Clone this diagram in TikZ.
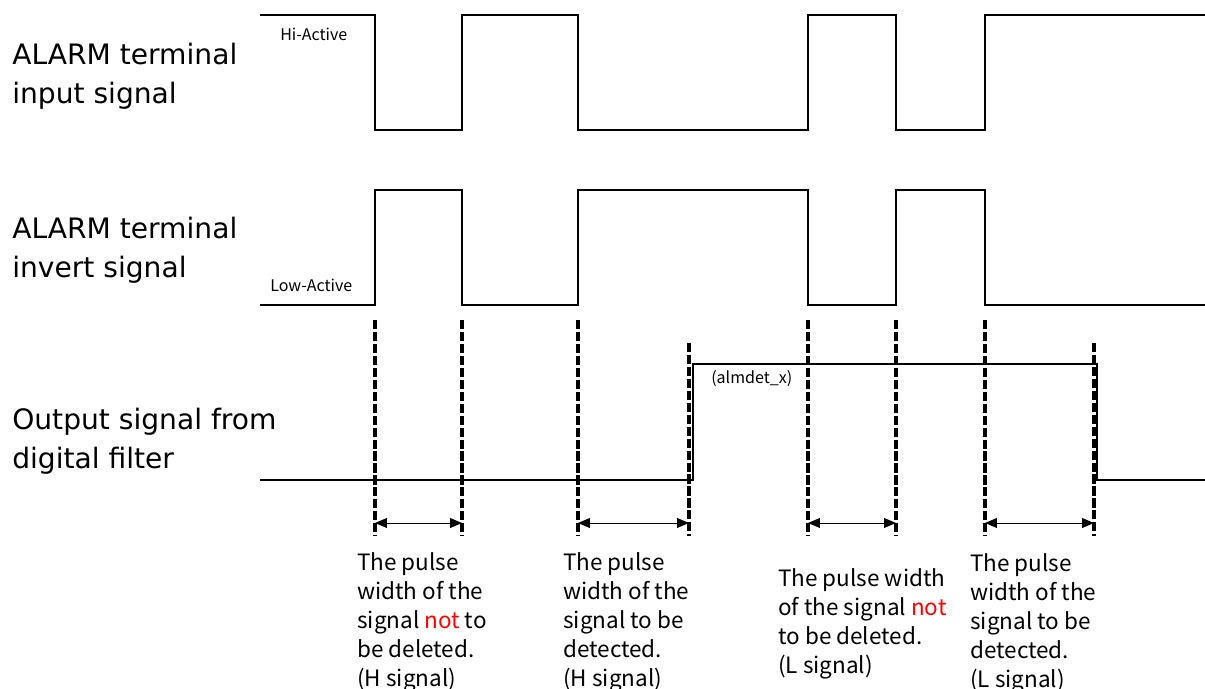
\documentclass[tikz,border=0pt]{standalone}
\usepackage{fontspec}
\setmainfont{Noto Sans CJK JP}
\newfontfamily\titulofont{DejaVu Sans}
\usetikzlibrary{arrows.meta}

\begin{document}
\begin{tikzpicture}[
        x=0.025cm, y=-0.025cm,
        senal/.style={line width=1.5pt},
        guia/.style={line width=2.4pt, dash pattern=on 6.5pt off 2pt},
        flecha/.style={
            {Triangle[length=8.5pt,width=7pt]}-{Triangle[length=8.5pt,width=7pt]},
            line width=0.7pt
        },
        titulo/.style={
            anchor=north west,
            inner sep=0pt,
            align=left,
            font=\titulofont\fontsize{20}{27.5}\selectfont
        },
        nota/.style={
            anchor=north west,
            inner sep=0pt,
            align=left,
            font=\fontsize{16}{20.6}\selectfont
        },
        etiqueta/.style={anchor=west, inner sep=0pt, font=\fontsize{11.4}{13}\selectfont}
    ]
        \useasboundingbox (0,0) rectangle (1205,689);

        \node[titulo] (entrada) at (12,43) {ALARM terminal\\input signal};
        \node[titulo] (invertida) at (12,217) {ALARM terminal\\invert signal};
        \node[titulo] (salida) at (12,408) {Output signal from\\digital filter};

        \draw[senal] (260,15) -| (375,130) -| (462,15) -| (578,130)
            -| (808,15) -| (896,130) -| (985,15) -- (1205,15);
        \draw[senal] (260,305) -| (375,190) -| (462,305) -| (578,190)
            -| (808,305) -| (896,190) -| (985,305) -- (1205,305);
        \draw[senal] (260,480) -| (693,364) -| (1097,480) -- (1205,480);

        \node[etiqueta] (activoalto) at (280,34) {Hi-Active};
        \node[etiqueta] (activobajo) at (270,285) {Low-Active};
        \node[etiqueta] (almdet) at (711,379) {(almdet\_x)};

        \foreach \x/\arriba [count=\i] in {375/320, 462/320, 578/320, 689/343,
                808/320, 896/320, 985/320, 1094/343} {
            \coordinate (g\i a) at (\x,\arriba);
            \coordinate (g\i m) at (\x,523);
            \coordinate (g\i b) at (\x,536);
            \draw[guia] (g\i a) -- (g\i b);
        }

        \draw[flecha] (g1m) -- (g2m);
        \draw[flecha] (g3m) -- (g4m);
        \draw[flecha] (g5m) -- (g6m);
        \draw[flecha] (g7m) -- (g8m);

        \node[nota] (nota1) at (357,552)
        {The pulse\\width of the\\signal \textcolor{red}{not} to\\be deleted.\\(H signal)};
        \node[nota] (nota2) at (563,552)
        {The pulse\\width of the\\signal to be\\detected.\\(H signal)};
        \node[nota] (nota3) at (778,568)
        {The pulse width\\of the signal \textcolor{red}{not}\\to be deleted.\\(L signal)};
        \node[nota] (nota4) at (970,553)
        {The pulse\\width of the\\signal to be\\detected.\\(L signal)};
    \end{tikzpicture}
\end{document}
